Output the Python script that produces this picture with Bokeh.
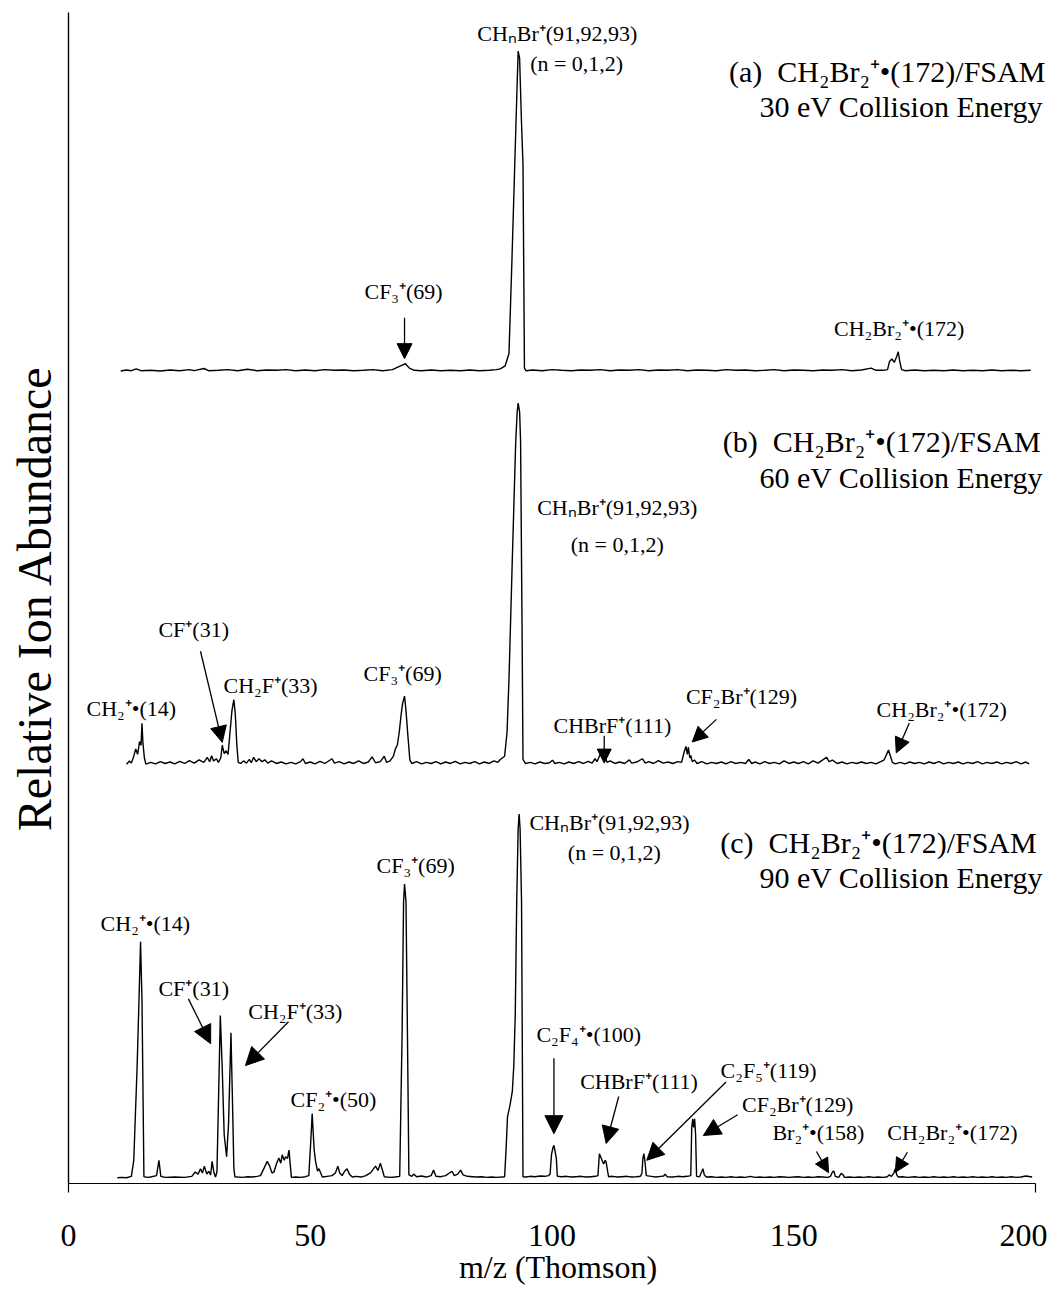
from bokeh.plotting import figure
from bokeh.models import Range1d, FixedTicker, Label, Arrow, NormalHead
from bokeh.embed import file_html
from bokeh.resources import INLINE

# ---------------- data (m/z, relative abundance) ----------------
spec_a = [
    (10.8, 0.2), (12, 0.5), (13, 0.3), (14, 0.8), (15, 0.3), (17, 0.4), (19, 0.2), (21, 0.5),
    (23, 0.3), (25, 0.6), (26, 0.3), (28, 0.9), (29, 0.3), (31, 0.4), (33, 0.6), (35, 0.3),
    (37, 0.7), (39, 0.3), (41, 0.5), (43, 0.4), (45, 0.6), (47, 0.3), (49, 0.5), (51, 0.3),
    (53, 0.6), (55, 0.4), (57, 0.5), (59, 0.3), (61, 0.4), (63, 0.6), (65, 0.3), (67, 0.6),
    (68, 1.2), (69, 1.8), (69.7, 2.2), (70.5, 1.0), (71.5, 0.4), (73, 0.3), (75, 0.5), (77, 0.3),
    (79, 0.4), (81, 0.3), (83, 0.5), (85, 0.3), (87, 0.4), (88.5, 0.6), (89.3, 0.8), (90.3, 1.6),
    (91.1, 5.0), (91.7, 30), (92.3, 57), (92.7, 75), (93.0, 88), (93.3, 86), (93.7, 68), (94.0, 57),
    (94.3, 1.0), (94.6, 0.3), (96, 0.5), (98, 0.3), (100, 0.6), (102, 0.4), (104, 0.3), (106, 0.5),
    (108, 0.4), (110, 0.6), (112, 0.3), (114, 0.5), (116, 0.4), (118, 0.6), (120, 0.3), (122, 0.5),
    (124, 0.4), (126, 0.6), (128, 0.3), (130, 0.5), (132, 0.4), (134, 0.3), (136, 0.6), (138, 0.4),
    (140, 0.5), (142, 0.3), (144, 0.4), (146, 0.6), (148, 0.3), (150, 0.5), (152, 0.4), (154, 0.3),
    (156, 0.5), (158, 0.4), (160, 0.6), (162, 0.3), (164, 0.5), (166, 1.0), (167, 0.4), (168.5, 0.4),
    (169.4, 0.6), (169.8, 2.8), (170.3, 3.5), (170.8, 2.6), (171.3, 4.2), (171.6, 5.5), (171.9, 3.0),
    (172.3, 0.6), (173, 0.3), (175, 0.5), (177, 0.3), (179, 0.4), (181, 0.3), (183, 0.5), (185, 0.3),
    (187, 0.4), (189, 0.3), (191, 0.5), (193, 0.3), (195, 0.4), (197, 0.3), (199, 0.4),
]

spec_b = [
    (12.0, 0.3), (12.6, 1.2), (13.0, 0.6), (13.5, 2.5), (13.9, 4.5), (14.3, 3.0), (14.7, 6.5),
    (15.0, 5.5), (15.2, 11.5), (15.4, 6.0), (15.7, 2.0), (16.0, 0.3), (17, 0.8), (18, 0.4), (19, 1.0),
    (20, 0.5), (21, 0.9), (22, 0.4), (23, 1.1), (24, 0.5), (25, 1.3), (26, 0.6), (27, 1.5), (28, 0.8),
    (28.7, 2.2), (29.2, 1.0), (29.6, 2.6), (30.0, 1.2), (30.6, 1.8), (31.0, 0.8), (31.5, 2.0),
    (31.8, 5.5), (32.2, 3.2), (32.6, 4.0), (33.0, 3.0), (33.4, 9.0), (33.8, 15.0), (34.2, 18.0),
    (34.5, 14.0), (34.8, 6.0), (35.1, 0.8), (35.6, 0.5), (36.2, 1.2), (36.8, 0.6), (37.4, 1.6),
    (37.8, 0.7), (38.3, 2.2), (38.8, 1.0), (39.4, 1.8), (40, 1.0), (40.6, 1.5), (41.2, 0.6), (42, 1.2),
    (43, 0.5), (44, 0.9), (45, 0.4), (46, 0.8), (47, 0.4), (48, 1.0), (48.5, 1.8), (49, 0.5), (50, 0.9),
    (51, 0.4), (52, 1.1), (53, 0.5), (54.5, 1.8), (55, 0.6), (56, 1.0), (57, 0.4), (58, 0.9), (59, 0.5),
    (60, 1.2), (61, 0.5), (62, 0.9), (62.8, 2.3), (63.5, 0.7), (64.5, 1.0), (65.3, 2.5), (65.8, 0.8),
    (66.5, 1.2), (67.2, 2.5), (67.6, 4.5), (68.0, 5.5), (68.4, 9.0), (68.8, 14.0), (69.1, 17.0),
    (69.5, 19.0), (69.8, 15.0), (70.2, 8.0), (70.6, 1.5), (71.0, 0.5), (72, 1.0), (73, 0.4), (74, 0.8),
    (75, 0.5), (76, 1.0), (77, 0.4), (78, 0.9), (79, 0.5), (80, 1.1), (81, 0.4), (82, 0.8), (83, 0.5),
    (84, 1.0), (85, 0.4), (86, 0.9), (87, 0.5), (88, 1.2), (88.8, 0.8), (89.3, 1.6), (90.2, 2.5),
    (90.7, 9.0), (91.1, 23.5), (91.8, 57.0), (92.5, 89.0), (92.8, 97.0), (93.0, 99.4), (93.3, 97.0),
    (93.5, 89.0), (93.8, 39.0), (94.0, 1.6), (94.5, 0.5), (95.5, 0.8), (96.5, 0.4), (97.5, 0.9),
    (98.5, 0.5), (99.5, 0.7), (100.1, 1.4), (100.6, 0.5), (101.5, 0.8), (102.5, 0.4), (103.5, 0.9),
    (104.5, 0.5), (105.5, 1.0), (106.5, 0.5), (107.5, 1.1), (108.3, 0.6), (108.9, 1.8), (109.3, 1.0),
    (109.8, 2.5), (110.2, 3.6), (110.6, 2.0), (111.0, 2.3), (111.4, 0.8), (112, 1.2), (113, 0.5),
    (114, 0.9), (115, 0.5), (116, 1.5), (116.5, 0.6), (117.5, 0.9), (118.7, 1.8), (119.3, 0.6),
    (120, 1.0), (121, 0.5), (122, 1.3), (123, 0.6), (124, 0.9), (125, 0.5), (126, 1.0), (126.8, 0.8),
    (127.3, 3.5), (127.7, 5.2), (128.0, 3.0), (128.2, 5.0), (128.5, 2.0), (128.7, 2.7), (129.0, 1.0),
    (129.5, 1.4), (130, 0.5), (131, 1.0), (132, 0.4), (133, 0.8), (134, 0.5), (135, 0.9), (136, 0.4),
    (137, 1.0), (138, 0.5), (139, 0.8), (140, 0.5), (140.7, 1.6), (141.3, 0.5), (142, 0.9), (143, 0.4),
    (144, 1.0), (145, 0.5), (146, 0.8), (147, 0.4), (148, 1.2), (149, 0.5), (150, 0.9), (151, 0.5),
    (152, 1.0), (153, 0.4), (154, 1.2), (155, 0.6), (156, 1.5), (156.8, 2.2), (157.3, 1.0), (158, 1.4),
    (159, 0.5), (160, 0.9), (161, 0.4), (162, 0.8), (163, 0.5), (164, 0.9), (165, 0.5), (166, 0.8),
    (167, 0.4), (168, 1.0), (168.7, 1.5), (169.2, 3.0), (169.6, 4.2), (170.0, 2.5), (170.4, 0.8),
    (171, 0.4), (172, 0.8), (173, 0.4), (174, 0.9), (175, 0.5), (176, 0.8), (177, 0.4), (178, 0.9),
    (179, 0.5), (180, 1.0), (181, 0.4), (182, 0.8), (183, 0.5), (184, 0.9), (185, 0.4), (186, 0.8),
    (187, 0.5), (188, 1.0), (189, 0.4), (190, 0.8), (191, 0.5), (192, 0.9), (193, 0.4), (194, 0.8),
    (195, 0.5), (196, 1.0), (197, 0.4), (198, 0.9), (198.7, 0.4),
]

spec_c = [
    (10.1, 0.2), (11, 0.3), (12, 0.2), (13, 0.6), (13.5, 5.0), (14.2, 31.0), (14.6, 50.0),
    (14.9, 65.0), (15.2, 49.0), (15.6, 0.5), (16.2, 0.3), (17, 0.4), (18.2, 0.8), (18.7, 5.0),
    (19.1, 0.6), (20, 0.3), (22, 0.4), (24, 0.3), (25.5, 0.6), (26.2, 1.8), (26.8, 1.2), (27.3, 2.7),
    (27.7, 1.5), (28.1, 3.4), (28.6, 1.2), (29.0, 2.0), (29.4, 1.0), (29.7, 4.7), (30.1, 1.5),
    (30.4, 0.4), (30.7, 1.8), (31.0, 20.0), (31.4, 44.7), (31.8, 30.0), (32.2, 12.0), (32.7, 6.0),
    (33.1, 15.0), (33.6, 40.0), (33.9, 22.0), (34.2, 3.0), (34.4, 0.5), (35, 0.4), (36, 0.3),
    (37, 0.5), (38, 0.4), (39, 0.6), (39.7, 0.8), (40.5, 3.0), (41.1, 4.7), (41.6, 3.4), (42.1, 1.5),
    (42.5, 1.8), (43.0, 4.0), (43.5, 5.6), (43.9, 4.2), (44.2, 6.5), (44.6, 5.0), (44.9, 6.0),
    (45.3, 5.5), (45.6, 7.8), (46.1, 0.3), (47, 0.4), (48, 0.3), (49, 0.5), (49.7, 0.8), (50.1, 10.0),
    (50.4, 17.8), (50.8, 8.0), (51.1, 4.7), (51.5, 2.0), (51.8, 2.7), (52.5, 0.4), (53.5, 0.6),
    (54.5, 0.8), (55.2, 1.5), (55.7, 3.4), (56.1, 1.5), (56.6, 0.8), (57.1, 2.0), (57.6, 2.7),
    (58.1, 1.2), (58.7, 0.4), (59.5, 0.6), (60.5, 0.4), (61.5, 0.8), (62.5, 1.6), (63.0, 2.5),
    (63.5, 3.4), (64.0, 2.2), (64.5, 4.2), (65.0, 2.0), (65.3, 0.5), (66.5, 0.3), (67.5, 0.4),
    (68.5, 0.6), (69.0, 40.0), (69.3, 76.0), (69.5, 80.8), (69.8, 76.0), (70.1, 40.0), (70.4, 1.0),
    (71.0, 0.6), (71.4, 1.2), (72, 0.5), (73, 0.7), (74, 0.4), (75, 0.8), (75.5, 2.3), (76, 0.6),
    (77, 0.5), (78, 0.8), (79.3, 2.0), (79.8, 0.8), (80.5, 1.2), (81.1, 2.3), (81.6, 1.0), (82.5, 0.6),
    (83.5, 0.5), (84.5, 0.4), (85.5, 0.5), (86.5, 0.3), (87.5, 0.4), (88.5, 0.3), (89.5, 0.4),
    (90.2, 0.5), (90.5, 8.0), (90.8, 17.0), (91.3, 20.0), (91.8, 24.0), (92.1, 31.0), (92.4, 45.0),
    (92.7, 76.0), (93.0, 96.0), (93.2, 100.0), (93.4, 96.0), (93.7, 76.0), (94.0, 0.5), (94.5, 0.4),
    (95.5, 0.6), (96.5, 0.5), (97.5, 0.7), (98.5, 0.6), (99.3, 0.8), (99.6, 1.2), (99.9, 6.6),
    (100.2, 8.5), (100.4, 9.1), (100.7, 7.0), (100.9, 5.5), (101.1, 0.6), (102, 0.5), (103, 0.6),
    (104, 0.4), (105, 0.5), (106, 0.6), (107, 0.4), (108, 0.5), (109, 0.6), (109.5, 0.8), (109.8, 6.8),
    (110.0, 6.2), (110.2, 5.5), (110.5, 4.5), (110.7, 4.0), (111.0, 5.0), (111.2, 4.5), (111.5, 2.0),
    (111.7, 0.5), (112.5, 0.6), (113.5, 0.4), (114.5, 0.5), (115.5, 0.6), (116.5, 0.4), (117.5, 0.5),
    (118.3, 0.6), (118.6, 1.5), (118.8, 5.5), (119.0, 6.8), (119.2, 5.0), (119.5, 0.8), (120.5, 0.6),
    (121.5, 0.4), (122.5, 0.6), (123.1, 0.7), (123.4, 1.2), (123.8, 0.5), (125, 0.4), (126, 0.6),
    (127, 0.5), (128, 0.6), (128.7, 0.8), (128.9, 14.0), (129.1, 16.4), (129.3, 14.0), (129.5, 16.4),
    (129.7, 12.0), (129.9, 0.6), (130.5, 0.5), (131.0, 2.0), (131.2, 2.7), (131.5, 1.0), (131.9, 0.4),
    (133, 0.5), (134, 0.3), (135, 0.4), (136, 0.3), (137, 0.5), (138, 0.3), (139, 0.4), (140, 0.3),
    (141, 0.6), (142, 0.3), (143, 0.4), (144, 0.3), (145, 0.4), (146, 0.3), (147, 0.5), (148, 0.4),
    (149, 0.3), (150, 0.4), (151, 0.5), (152, 0.3), (153, 0.4), (154, 0.3), (155, 0.5), (156, 0.4),
    (157, 0.3), (157.6, 0.6), (158.0, 1.8), (158.3, 2.0), (158.6, 0.6), (159.3, 0.3), (159.8, 1.4),
    (160.2, 1.0), (160.5, 0.3), (161.5, 0.4), (162.5, 0.3), (163.5, 0.4), (164.5, 0.3), (165.5, 0.5),
    (166.5, 0.3), (167.5, 0.4), (168.5, 0.3), (169.4, 0.5), (169.7, 1.0), (170.2, 0.6), (170.7, 1.5),
    (171.0, 2.7), (171.3, 1.0), (171.6, 0.4), (172.5, 0.5), (173.5, 0.3), (175, 0.5), (176, 0.3),
    (177, 0.4), (178, 0.3), (179, 0.5), (180, 0.3), (181, 0.4), (182, 0.3), (183, 0.5), (184, 0.3),
    (185, 0.4), (186, 0.3), (187, 0.5), (188, 0.3), (189, 0.4), (190, 0.3), (191, 0.5), (192, 0.3),
    (193, 0.4), (194, 0.3), (195, 0.5), (196, 0.3), (197, 0.4), (198, 0.7), (199.3, 0.4),
]

x_ticks = [0, 50, 100, 150, 200]
x_end_ticks = [0, 200]
x_label = "m/z (Thomson)"
y_label = "Relative Ion Abundance"

# vertical stacking of the three spectra (layout)
offsets = {"a": 221.4, "b": 113.4, "c": 0.0}
y_min, y_max = -1.37, 320.0

# titles of each panel (left aligned)
titles = [
    ("(a) \u00a0CH₂Br₂⁺•(172)/FSAM", 136.6, 303.8),
    ("30 eV Collision Energy", 142.9, 294.1),
    ("(b) \u00a0CH₂Br₂⁺•(172)/FSAM", 135.3, 202.2),
    ("60 eV Collision Energy", 142.9, 192.3),
    ("(c) \u00a0CH₂Br₂⁺•(172)/FSAM", 134.8, 92.1),
    ("90 eV Collision Energy", 142.9, 82.7),
]

# peak labels (centered)
peak_labels = [
    ("CHₙBr⁺(91,92,93)", 101.1, 314.2),
    ("(n = 0,1,2)", 105.1, 306.0),
    ("CF₃⁺(69)", 69.3, 243.3),
    ("CH₂Br₂⁺•(172)", 171.8, 233.4),
    ("CHₙBr⁺(91,92,93)", 113.5, 184.1),
    ("(n = 0,1,2)", 113.5, 174.0),
    ("CF⁺(31)", 25.9, 150.7),
    ("CH₂F⁺(33)", 41.8, 135.3),
    ("CH₂⁺•(14)", 13.0, 129.0),
    ("CF₃⁺(69)", 69.1, 138.6),
    ("CHBrF⁺(111)", 112.5, 124.4),
    ("CF₂Br⁺(129)", 139.2, 132.4),
    ("CH₂Br₂⁺•(172)", 180.6, 128.6),
    ("CHₙBr⁺(91,92,93)", 111.9, 97.8),
    ("(n = 0,1,2)", 112.9, 89.6),
    ("CF₃⁺(69)", 71.8, 85.8),
    ("CH₂⁺•(14)", 15.9, 70.1),
    ("CF⁺(31)", 25.9, 52.1),
    ("CH₂F⁺(33)", 46.9, 45.8),
    ("CF₂⁺•(50)", 54.8, 21.6),
    ("C₂F₄⁺•(100)", 107.6, 39.5),
    ("CHBrF⁺(111)", 118.0, 26.5),
    ("C₂F₅⁺(119)", 144.8, 29.6),
    ("CF₂Br⁺(129)", 150.8, 20.3),
    ("Br₂⁺•(158)", 155.1, 12.5),
    ("CH₂Br₂⁺•(172)", 182.8, 12.5),
]

# arrows (x_start, y_start, x_end, y_end, head size)
arrows = [
    (69.5, 236.2, 69.5, 225.0, 15),
    (27.3, 144.7, 31.8, 119.7, 16),
    (110.8, 121.5, 110.8, 114.0, 14),
    (134.0, 126.0, 129.0, 119.8, 15),
    (173.9, 125.0, 171.2, 116.8, 15),
    (24.8, 49.3, 29.4, 37.0, 18),
    (45.5, 43.0, 36.6, 31.0, 18),
    (100.4, 33.0, 100.4, 12.3, 18),
    (113.8, 22.5, 111.2, 9.6, 17),
    (136.0, 26.5, 119.6, 5.0, 17),
    (138.4, 17.5, 131.3, 11.8, 17),
    (154.7, 7.4, 157.2, 1.6, 14),
    (173.5, 7.2, 171.0, 1.7, 14),
]

FONT = "Liberation Serif"

p = figure(width=1047, height=1287,
           x_range=Range1d(0, 202.48), y_range=Range1d(y_min, y_max),
           output_backend="svg", toolbar_location=None,
           min_border_left=68, min_border_right=0, min_border_top=12, min_border_bottom=102)
p.grid.visible = False
p.outline_line_color = None
p.background_fill_color = "white"
p.border_fill_color = "white"

xa = p.xaxis[0]
xa.ticker = FixedTicker(ticks=x_ticks, minor_ticks=x_end_ticks)
xa.bounds = (x_ticks[0], x_ticks[-1])
xa.axis_line_color = "black"
xa.axis_line_width = 1.2
xa.major_tick_line_color = None
xa.major_tick_out = 0
xa.major_tick_in = 0
xa.minor_tick_line_color = "black"
xa.minor_tick_line_width = 1.2
xa.minor_tick_out = 9
xa.minor_tick_in = 0
xa.major_label_standoff = 32
xa.major_label_text_font = FONT
xa.major_label_text_font_size = "32px"
xa.major_label_text_color = "black"
xa.axis_label = x_label
xa.axis_label_text_font = FONT
xa.axis_label_text_font_style = "normal"
xa.axis_label_text_font_size = "32px"
xa.axis_label_text_color = "black"
xa.axis_label_standoff = 0

ya = p.yaxis[0]
ya.ticker = FixedTicker(ticks=[])
ya.axis_line_color = "black"
ya.axis_line_width = 1.4
ya.major_tick_line_color = None
ya.minor_tick_line_color = None
ya.major_tick_out = 0
ya.major_tick_in = 0
ya.axis_label = y_label
ya.axis_label_text_font = FONT
ya.axis_label_text_font_style = "normal"
ya.axis_label_text_font_size = "48px"
ya.axis_label_text_color = "black"
ya.axis_label_standoff = 8

for key, spec in (("a", spec_a), ("b", spec_b), ("c", spec_c)):
    xs = [m for m, _ in spec]
    ys = [v + offsets[key] for _, v in spec]
    p.line(xs, ys, line_color="black", line_width=1.4)

for t, x, y in titles:
    p.add_layout(Label(x=x, y=y, text=t, text_align="left", text_baseline="middle",
                       text_font=FONT, text_font_size="30px", text_color="black"))

for t, x, y in peak_labels:
    p.add_layout(Label(x=x, y=y, text=t, text_align="center", text_baseline="middle",
                       text_font=FONT, text_font_size="22px", text_color="black"))

for x0, y0, x1, y1, hs in arrows:
    p.add_layout(Arrow(x_start=x0, y_start=y0, x_end=x1, y_end=y1,
                       line_color="black", line_width=1.3,
                       end=NormalHead(size=hs, fill_color="black", line_color="black", line_width=1)))

open("out.html", "w").write(file_html(p, INLINE))
